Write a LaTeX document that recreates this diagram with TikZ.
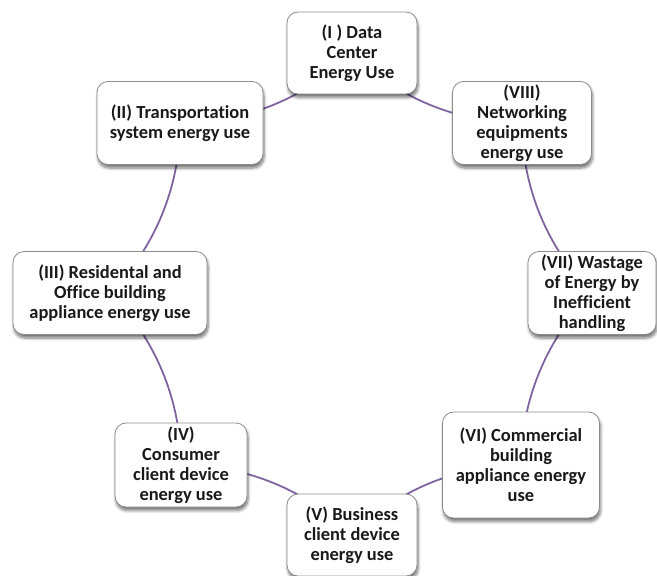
\documentclass[tikz,border=0pt]{standalone}
\usepackage{fontspec}
\setmainfont{Carlito}[Ligatures=NoCommon]
\usetikzlibrary{shadows.blur,backgrounds}
\definecolor{ringpurple}{HTML}{8064A2}
\definecolor{boxedge}{HTML}{8C8C8C}
\tikzset{
  stagebox/.style={draw=boxedge, line width=0.8bp, fill=white, rounded corners=11bp,
    align=center, inner sep=0pt, font=\fontsize{18.5}{20.2}\selectfont\bfseries,
    text=black!90,
    blur shadow={shadow xshift=1bp, shadow yshift=-3.5bp, shadow blur steps=6, shadow opacity=55, shadow blur radius=3bp}},
  ring/.style={draw=ringpurple, line width=1.8bp, bend left=22.5, looseness=0.885}
}
\begin{document}
\begin{tikzpicture}[x=1bp,y=-1bp]
\useasboundingbox (0,0) rectangle (657,576);
\clip (0,0) rectangle (657,576);
\node[stagebox, minimum width=130bp, minimum height=82bp] (I) at (352,53) {(I ) Data\\Center\\Energy Use};
\node[stagebox, minimum width=139bp, minimum height=83bp] (VIII) at (522,123) {(VIII)\\Networking\\equipments\\energy use};
\node[stagebox, minimum width=128bp, minimum height=83bp] (VII) at (592,293) {(VII) Wastage\\of Energy by\\Inefficient\\handling};
\node[stagebox, minimum width=157bp, minimum height=106bp] (VI) at (521,465) {(VI) Commercial\\building\\appliance energy\\use};
\node[stagebox, minimum width=130bp, minimum height=82bp] (V) at (352,535) {(V) Business\\client device\\energy use};
\node[stagebox, minimum width=132bp, minimum height=84bp] (IV) at (181,465) {(IV)\\Consumer\\client device\\energy use};
\node[stagebox, minimum width=194bp, minimum height=83bp] (III) at (110,293) {(III) Residental and\\Office building\\appliance energy use};
\node[stagebox, minimum width=166bp, minimum height=83bp] (II) at (180,123) {(II) Transportation\\system energy use};
\begin{scope}[on background layer]
\draw[ring] (I.center) to (II.center);
\draw[ring] (II.center) to (III.center);
\draw[ring] (III.center) to (IV.center);
\draw[ring] (IV.center) to (V.center);
\draw[ring] (V.center) to (VI.center);
\draw[ring] (VI.center) to (VII.center);
\draw[ring] (VII.center) to (VIII.center);
\draw[ring] (VIII.center) to (I.center);
\end{scope}
\end{tikzpicture}
\end{document}
